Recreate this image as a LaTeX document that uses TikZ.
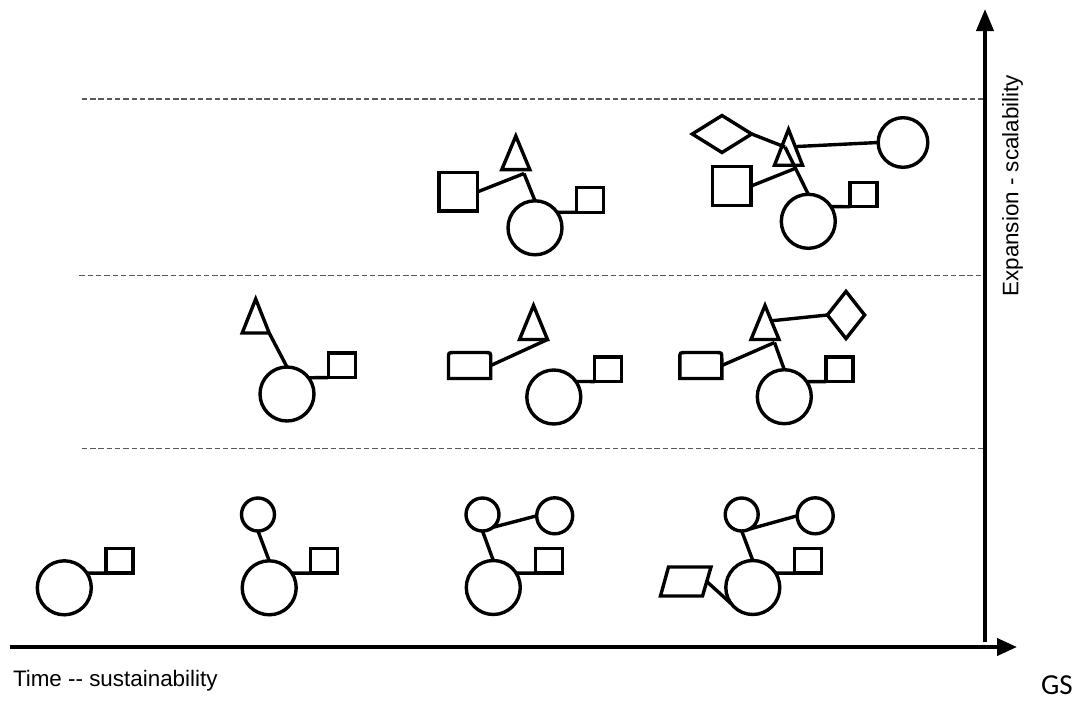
\documentclass[tikz,border=0pt]{standalone}
\usepackage{fontspec}
\setmainfont{Liberation Sans}
\newfontfamily\gsfont{Carlito}
\usetikzlibrary{arrows.meta,calc}
\begin{document}
\begin{tikzpicture}[x=1pt,y=-1pt,
  ln/.style={line width=3.4pt},
  circ/.style={circle,draw,line width=3.4pt,inner sep=0pt,outer sep=0pt,minimum size=#1},
  sq/.style 2 args={rectangle,draw,line width=3.4pt,inner sep=0pt,outer sep=0pt,minimum width=#1,minimum height=#2},
  box/.style 2 args={rectangle,inner sep=0pt,outer sep=0pt,minimum width=#1,minimum height=#2},
  guide/.style={line width=1.1pt,black!65,dash pattern=on 5.5pt off 2.8pt},
  axis/.style={line width=4pt},
  lbl/.style={inner sep=0pt,outer sep=0pt,font=\fontsize{22.4}{26}\selectfont}
]
\useasboundingbox (0,0) rectangle (1081,702);

% guide lines
\coordinate (g1a) at (81.7,99);   \coordinate (g1b) at (983,99);
\coordinate (g2a) at (79.3,275.5); \coordinate (g2b) at (983,275.5);
\coordinate (g3a) at (81.7,448.5); \coordinate (g3b) at (983,448.5);
\draw[guide] (g1a) -- (g1b);
\draw[guide] (g2a) -- (g2b);
\draw[guide] (g3a) -- (g3b);

% axes
\coordinate (xa) at (9.5,647); \coordinate (xb) at (1017,647);
\coordinate (ya) at (985,642); \coordinate (yb) at (985,9);
\draw[axis,-{Triangle[length=20pt,width=17pt]}] (xa) -- (xb);
\draw[axis,-{Triangle[length=22pt,width=17pt]}] (ya) -- (yb);

% labels
\node[lbl,anchor=base west] (tx) at (13,686) {Time -\kern0pt- sustainability};
\node[lbl,anchor=base west,rotate=90] (ty) at (1018.3,296.5) {Expansion - scalability};
\node[inner sep=0pt,outer sep=0pt,anchor=base west,font=\gsfont\fontsize{29}{32}\selectfont] (gs) at (1041,694.5) {GS};

% ---------- bottom row ----------
% group 1
\node[circ=54] (c1) at (64.3,587.8) {};
\node[sq={27}{24.5}] (s1) at (119.3,560.8) {};
\draw[ln] (c1.33) -- (s1.south west);
% group 2
\node[circ=33] (a2) at (258,514.5) {};
\node[circ=54] (c2) at (269.2,587.8) {};
\node[sq={27}{24.5}] (s2) at (323.8,560.8) {};
\draw[ln] (a2.south) -- (c2.north);
\draw[ln] (c2.33) -- (s2.south west);
% group 3
\node[circ=33] (a3) at (482.5,514.5) {};
\node[circ=36] (b3) at (554.7,515.8) {};
\node[circ=54] (c3) at (493.3,587.5) {};
\node[sq={27}{24.5}] (s3) at (548.7,560.8) {};
\draw[ln] (a3.south) -- (c3.north);
\draw[ln] (a3.-51) -- (b3.west);
\draw[ln] (c3.32) -- (s3.south west);
% group 4
\node[circ=33] (a4) at (741.7,514.5) {};
\node[circ=36] (b4) at (815.2,515.8) {};
\node[circ=54] (c4) at (752.8,587.5) {};
\node[sq={27}{24.5}] (s4) at (808,560.8) {};
\node[box={50.5}{29}] (p4) at (685.75,581.5) {};
\draw[ln] ([xshift=8pt]p4.north west) -- (p4.north east) -- ([xshift=-8.5pt]p4.south east) -- (p4.south west) -- cycle;
\draw[ln] (a4.south) -- (c4.north);
\draw[ln] (a4.-62) -- (b4.west);
\draw[ln] (c4.32) -- (s4.south west);
\draw[ln] ($(p4.north east)!0.5!([xshift=-8.5pt]p4.south east)$) -- (c4.217);

% ---------- middle row ----------
% group 2
\node[box={27}{34}] (t5) at (255.7,316) {};
\draw[ln] (t5.south west) -- (t5.north) -- (t5.south east) -- cycle;
\node[circ=54] (c5) at (287,394) {};
\node[sq={27}{24.5}] (s5) at (341.7,365.3) {};
\draw[ln] (t5.south east) -- (c5.north);
\draw[ln] (c5.37) -- (s5.south west);
% group 3
\node[box={42.3}{26}] (r6) at (469.6,365.5) {};
\draw[ln] (r6.south west) -- ([yshift=-6pt]r6.north west) .. controls (r6.north west) .. ([xshift=6pt]r6.north west) -- ([xshift=-6pt]r6.north east) .. controls (r6.north east) .. ([yshift=-6pt]r6.north east) -- (r6.south east) -- cycle;
\node[box={28}{34}] (t6) at (533.5,322.5) {};
\draw[ln] (t6.south west) -- (t6.north) -- (t6.south east) -- cycle;
\node[circ=54] (c6) at (553.8,397) {};
\node[sq={27}{24.5}] (s6) at (608,369.3) {};
\draw[ln] (r6.east) -- (t6.south east);
\draw[ln] (c6.35) -- (s6.south west);
% group 4
\node[box={42}{26}] (r7) at (700.8,365.5) {};
\draw[ln] (r7.south west) -- ([yshift=-6pt]r7.north west) .. controls (r7.north west) .. ([xshift=6pt]r7.north west) -- ([xshift=-6pt]r7.north east) .. controls (r7.north east) .. ([yshift=-6pt]r7.north east) -- (r7.south east) -- cycle;
\node[box={28}{34}] (t7) at (765,322.5) {};
\draw[ln] (t7.south west) -- (t7.north) -- (t7.south east) -- cycle;
\node[box={37.2}{47.2}] (d7) at (846,315) {};
\draw[ln] (d7.west) -- (d7.north) -- (d7.east) -- (d7.south) -- cycle;
\node[circ=54] (c7) at (784.3,396.7) {};
\node[sq={27}{24.5}] (s7) at (839.5,369.3) {};
\coordinate (j7) at (774.5,342.5);
\draw[ln] (r7.east) -- (j7);
\draw[ln] (j7) -- (c7.north);
\draw[ln] ($(t7.north)!0.45!(t7.south east)$) -- (d7.west);
\draw[ln] (c7.34) -- (s7.south west);

% ---------- top row ----------
% group 3
\node[sq={38.5}{38.5}] (q8) at (458.35,191.85) {};
\node[box={28}{33.5}] (t8) at (515.8,152.8) {};
\draw[ln] (t8.south west) -- (t8.north) -- (t8.south east) -- cycle;
\node[circ=54] (c8) at (535,227.8) {};
\node[sq={27}{24.5}] (s8) at (590,200) {};
\coordinate (j8) at (524,173.5);
\draw[ln] (q8.east) -- (j8);
\draw[ln] (j8) -- (c8.north);
\draw[ln] (c8.35) -- (s8.south west);
% group 4
\node[box={59.4}{37}] (dm9) at (722,134) {};
\draw[ln] (dm9.west) -- (dm9.north) -- (dm9.east) -- (dm9.south) -- cycle;
\node[box={28}{35.8}] (t9) at (788.5,147.3) {};
\draw[ln] (t9.south west) -- (t9.north) -- (t9.south east) -- cycle;
\node[sq={38.5}{39}] (q9) at (731.65,186.15) {};
\node[circ=49.6] (b9) at (903,142.5) {};
\node[circ=54] (c9) at (808.3,221.3) {};
\node[sq={27}{24.5}] (s9) at (863.65,194.5) {};
\coordinate (j9) at (785,147);
\draw[ln] (dm9.east) -- (j9);
\draw[ln] (j9) -- (c9.north);
\coordinate (k9) at ($(j9)!0.45!(c9.north)$);
\draw[ln] (q9.east) -- (k9);
\draw[ln] ($(t9.north)!0.48!(t9.south east)$) -- (b9.west);
\draw[ln] (c9.33) -- (s9.south west);
\end{tikzpicture}
\end{document}
